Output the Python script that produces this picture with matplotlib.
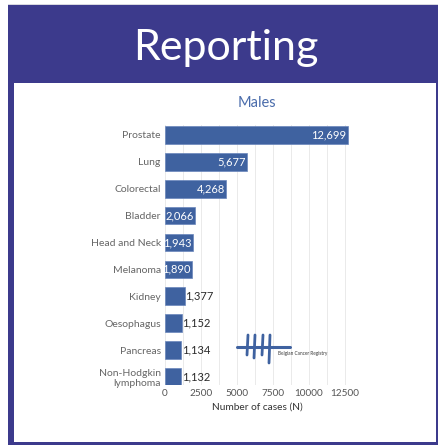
import numpy as np
import matplotlib.pyplot as plt
from matplotlib.patches import Rectangle

# Top 10 cancer sites, males
sites = ['Prostate', 'Lung', 'Colorectal', 'Bladder', 'Head and Neck',
         'Melanoma', 'Kidney', 'Oesophagus', 'Pancreas', 'Non-Hodgkin\nlymphoma']
cases = [12699, 5677, 4268, 2066, 1943, 1890, 1377, 1152, 1134, 1132]
xticks = [0, 2500, 5000, 7500, 10000, 12500]

W, H = 439, 445
purple = '#3c3a8c'
bar_col = '#3f62a0'

fig = plt.figure(figsize=(W / 100, H / 100), dpi=100)

def box(x0, y0, x1, y1, **kw):
    # rectangle in pixel coords, y measured from the top
    fig.patches.append(Rectangle((x0 / W, 1 - y1 / H), (x1 - x0) / W, (y1 - y0) / H,
                                 transform=fig.transFigure, figure=fig, zorder=-5, **kw))

# slide frame
box(8, 4, 439, 445, facecolor=purple, edgecolor='none')
box(14, 83, 436, 442, facecolor='white', edgecolor='none')
box(8, 3.5, 439, 4.5, facecolor='#d8d8e0', edgecolor='none')
fig.text(226 / W, 1 - 48 / H, 'Reporting', color='white', fontsize=31,
         family='Lato', ha='center', va='center')

# chart
ax_l, ax_r, ax_t, ax_b = 165, 350, 125, 385
ax = fig.add_axes([ax_l / W, 1 - ax_b / H, (ax_r - ax_l) / W, (ax_b - ax_t) / H])
ax.patch.set_alpha(0)
y = np.arange(len(sites))
ax.barh(y, cases, height=0.66, color=bar_col, edgecolor='#6a86bb', linewidth=0.5, zorder=2)
ax.set_xlim(0, 12850)
ax.set_ylim(9.3, -0.37)
ax.set_xticks(xticks)
ax.set_xticks(np.arange(1250, 12851, 2500), minor=True)
ax.grid(axis='x', which='both', color='#e6e6e6', linewidth=0.6, zorder=0)
ax.set_xticklabels([str(t) for t in xticks], family='Lato', fontsize=7.2, color='#555555')
ax.set_yticks(y)
ax.set_yticklabels(sites, family='Lato', fontsize=7.5, color='#666666', linespacing=1.1,
                   multialignment='right')
ax.tick_params(which='both', length=0, pad=3)
for s in ax.spines.values():
    s.set_visible(False)
ax.set_xlabel('Number of cases (N)', family='Lato', fontsize=7.3, color='#333333', labelpad=3)

for yi, v in zip(y, cases):
    lab = f'{v:,}'
    if v >= 1800:
        ax.text(v - 90, yi, lab, color='white', fontsize=8, family='Lato',
                ha='right', va='center', zorder=3)
    else:
        ax.text(v + 50, yi, lab, color='#2a2a2a', fontsize=8, family='Lato',
                ha='left', va='center', zorder=3)

fig.text(257 / W, 1 - 103 / H, 'Males', color='#4a6cab', fontsize=10.5,
         family='Lato', ha='center', va='center')

# registry logo: tally marks
def stroke(xs, ys, lw):
    fig.add_artist(plt.Line2D([x / W for x in xs], [1 - v / H for v in ys],
                              color='#3f62a0', linewidth=lw, solid_capstyle='round'))

stroke([237, 290], [347, 347], 2.2)
for xv, yb in zip([247, 254, 262, 269], [355, 358, 355, 363]):
    stroke([xv + 1, xv], [335, yb], 2.0)
fig.text(278 / W, 1 - 353 / H, 'Belgian Cancer Registry', color='#3b3b3b',
         fontsize=3.4, family='Lato', ha='left', va='center')

fig.savefig('out.png', dpi=100)
